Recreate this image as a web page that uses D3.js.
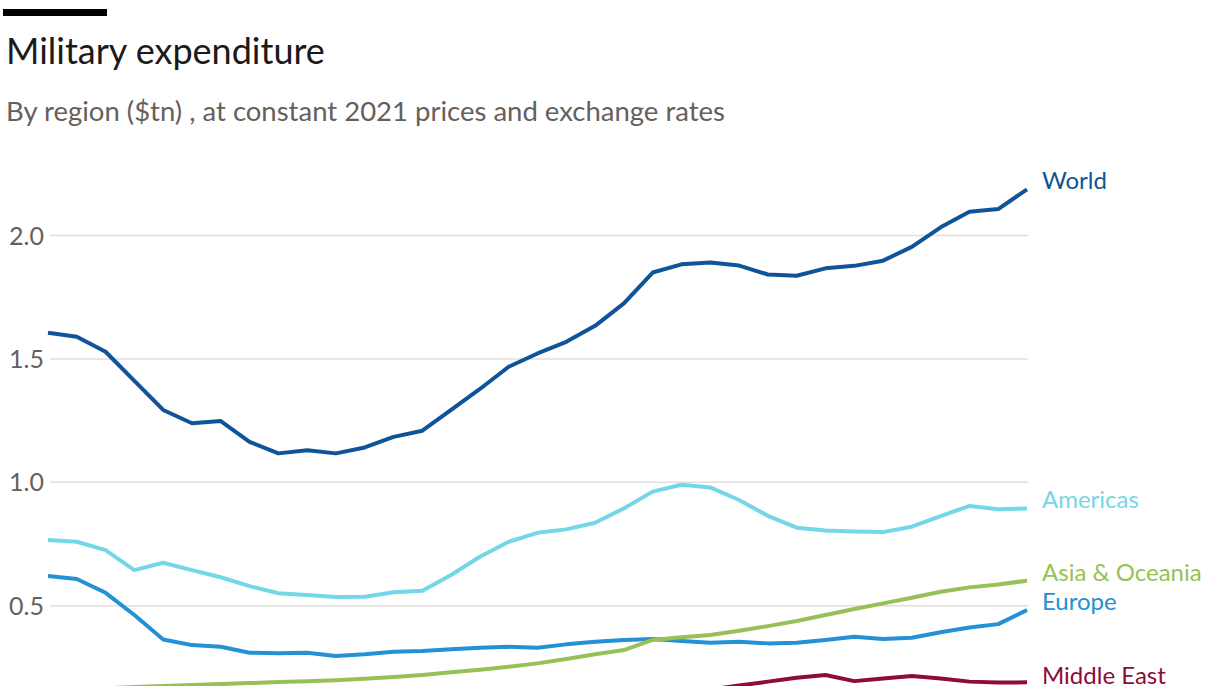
<!DOCTYPE html>
<html>
<head>
<meta charset="utf-8">
<script src="https://cdn.jsdelivr.net/npm/d3@7"></script>
<style>
  html, body { margin: 0; padding: 0; background: #fff; }
  svg { display: block; font-family: "Lato", "Open Sans", sans-serif; }
</style>
</head>
<body>
<svg id="chart" width="1208" height="698"></svg>
<script>
// years on the x axis (last vertex = 2022)
const years = d3.range(1988, 2023);

// $tn, constant 2021 prices
const world = [1.606, 1.590, 1.529, 1.411, 1.293, 1.239, 1.248, 1.164, 1.117, 1.130,
  1.117, 1.141, 1.184, 1.209, 1.293, 1.378, 1.468, 1.522, 1.569, 1.634,
  1.725, 1.850, 1.883, 1.891, 1.878, 1.842, 1.837, 1.867, 1.877, 1.898,
  1.954, 2.033, 2.096, 2.107, 2.187];
const americas = [0.766, 0.759, 0.725, 0.644, 0.674, 0.644, 0.615, 0.579, 0.550, 0.543,
  0.535, 0.536, 0.554, 0.560, 0.624, 0.698, 0.759, 0.795, 0.809, 0.836,
  0.894, 0.962, 0.990, 0.979, 0.928, 0.864, 0.816, 0.804, 0.800, 0.798,
  0.820, 0.863, 0.904, 0.891, 0.894];
const europe = [0.620, 0.608, 0.552, 0.462, 0.363, 0.340, 0.333, 0.309, 0.307, 0.309,
  0.296, 0.303, 0.313, 0.316, 0.323, 0.329, 0.333, 0.329, 0.343, 0.354,
  0.361, 0.365, 0.357, 0.350, 0.354, 0.347, 0.350, 0.361, 0.374, 0.365,
  0.370, 0.392, 0.411, 0.425, 0.482];
const asiaOceania = [0.140, 0.150, 0.165, 0.170, 0.174, 0.178, 0.182, 0.186, 0.190, 0.194,
  0.198, 0.204, 0.211, 0.219, 0.230, 0.240, 0.252, 0.266, 0.284, 0.303,
  0.320, 0.361, 0.372, 0.381, 0.398, 0.417, 0.438, 0.462, 0.486, 0.509,
  0.532, 0.556, 0.574, 0.586, 0.601];
const middleEast = [0.090, 0.085, 0.080, 0.085, 0.080, 0.078, 0.076, 0.074, 0.074, 0.078,
  0.084, 0.086, 0.092, 0.096, 0.100, 0.106, 0.112, 0.118, 0.124, 0.130,
  0.138, 0.146, 0.152, 0.160, 0.176, 0.192, 0.208, 0.219, 0.194, 0.205,
  0.215, 0.205, 0.192, 0.188, 0.189];

const yTicks = [0.5, 1.0, 1.5, 2.0];

const seriesList = [
  { name: "World", values: world, color: "#0f5499", dy: 0 },
  { name: "Americas", values: americas, color: "#73d7e8", dy: 0 },
  { name: "Asia & Oceania", values: asiaOceania, color: "#96c156", dy: 0 },
  { name: "Europe", values: europe, color: "#2391d3", dy: 0 },
  { name: "Middle East", values: middleEast, color: "#8e0c36", dy: 2 },
];

const svg = d3.select("#chart");

// header
svg.append("rect").attr("x", 3).attr("y", 9).attr("width", 104).attr("height", 7).attr("fill", "#000");
svg.append("text")
  .attr("x", 6).attr("y", 64)
  .attr("font-size", "36px")
  .attr("fill", "#1a1a1a")
  .text("Military expenditure");
svg.append("text")
  .attr("x", 6).attr("y", 121)
  .attr("font-size", "27.5px")
  .attr("fill", "#66605c")
  .text("By region ($tn) , at constant 2021 prices and exchange rates");

const x = d3.scaleLinear().domain([1988, 2022]).range([48, 1027]);
const y = d3.scaleLinear().domain([0, 2]).range([729, 235.5]);

// grid + tick labels
const grid = svg.append("g");
grid.selectAll("line")
  .data(yTicks)
  .join("line")
  .attr("x1", 50).attr("x2", 1028)
  .attr("y1", (d) => y(d)).attr("y2", (d) => y(d))
  .attr("stroke", "#e2dedb")
  .attr("stroke-width", 1.5);
grid.selectAll("text")
  .data(yTicks)
  .join("text")
  .attr("x", 44)
  .attr("y", (d) => y(d))
  .attr("dy", "0.36em")
  .attr("text-anchor", "end")
  .attr("font-size", "25px")
  .attr("fill", "#66605c")
  .text((d) => d3.format(".1f")(d));

// plot is cut off at the bottom of the frame
svg.append("clipPath").attr("id", "plotClip")
  .append("rect").attr("x", 0).attr("y", 0).attr("width", 1208).attr("height", 686);

const line = d3.line()
  .x((d, i) => x(years[i]))
  .y((d) => y(d));

svg.append("g")
  .attr("clip-path", "url(#plotClip)")
  .selectAll("path")
  .data(seriesList.slice().reverse())
  .join("path")
  .attr("d", (s) => line(s.values))
  .attr("fill", "none")
  .attr("stroke", (s) => s.color)
  .attr("stroke-width", 4)
  .attr("stroke-linejoin", "round");

svg.append("g")
  .selectAll("text")
  .data(seriesList)
  .join("text")
  .attr("x", 1042)
  .attr("y", (s) => y(s.values[s.values.length - 1]) + s.dy)
  .attr("font-size", "24px")
  .attr("fill", (s) => s.color)
  .text((s) => s.name);
</script>
</body>
</html>
